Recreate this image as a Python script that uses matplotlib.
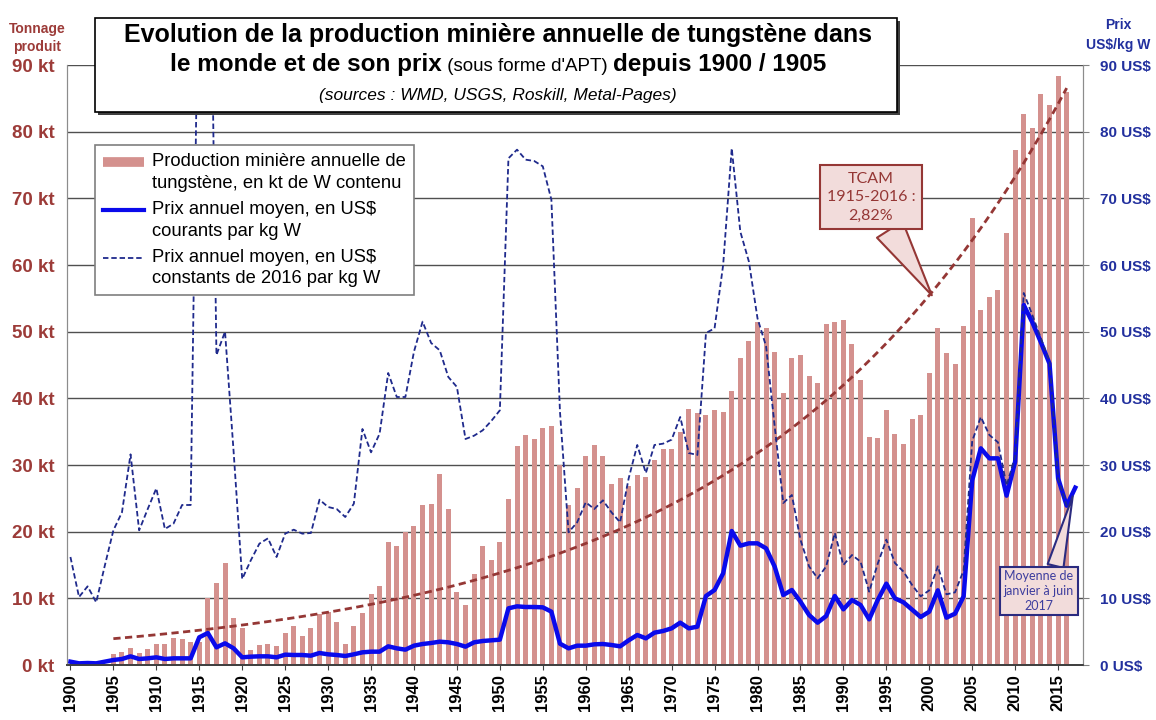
#!/bin/python
# production miniere de tungstene et prix (courant / constant) depuis 1900

import numpy as np
import matplotlib
matplotlib.use('Agg')
from matplotlib import pyplot as plt
from matplotlib.patches import Rectangle
from matplotlib.lines import Line2D
from matplotlib.legend_handler import HandlerLine2D

plt.rcParams['font.family'] = ['Liberation Sans', 'DejaVu Sans']

# ---- donnees ----
annees_prod = np.arange(1905, 2017)
production = [1.6, 1.9, 2.6, 1.8, 2.4,                      # 1905-1909
              3.2, 3.2, 4.1, 3.9, 3.5, 3.5, 10.0, 12.3, 15.3, 7.0,   # 1910-1919
              5.5, 2.3, 3.0, 3.2, 2.9, 4.8, 5.8, 4.4, 5.5, 7.6,      # 1920-1929
              7.9, 6.4, 3.2, 5.9, 7.8, 10.6, 11.8, 18.5, 17.8, 20.0, # 1930-1939
              20.8, 24.0, 24.1, 28.6, 23.4, 10.9, 9.0, 13.6, 17.8, 15.8,  # 1940-1949
              18.4, 24.9, 32.8, 34.5, 33.9, 35.6, 35.8, 30.0, 24.0, 26.5, # 1950-1959
              31.3, 33.0, 31.3, 27.2, 28.0, 26.9, 28.5, 28.2, 30.8, 32.4, # 1960-1969
              32.4, 35.0, 38.4, 37.8, 37.5, 38.2, 38.0, 41.1, 46.0, 48.6, # 1970-1979
              51.5, 50.5, 46.9, 40.8, 46.1, 46.5, 43.4, 42.3, 51.2, 51.5, # 1980-1989
              51.8, 48.1, 42.8, 34.2, 34.0, 38.3, 34.6, 33.1, 36.9, 37.5, # 1990-1999
              43.8, 50.5, 46.8, 45.2, 50.9, 67.1, 53.2, 55.2, 56.3, 64.8, # 2000-2009
              77.2, 82.6, 80.6, 85.7, 84.0, 88.4, 85.9]                  # 2010-2016

annees_prix = np.arange(1900, 2018)
prix_courant = [0.5, 0.25, 0.3, 0.25, 0.5, 0.75, 0.9, 1.3, 0.9, 1.0,     # 1900-1909
                1.15, 0.9, 1.0, 1.0, 1.0, 4.15, 4.8, 2.65, 3.25, 2.5,    # 1910-1919
                1.15, 1.25, 1.3, 1.3, 1.15, 1.55, 1.5, 1.5, 1.4, 1.8,    # 1920-1929
                1.6, 1.5, 1.35, 1.6, 1.9, 2.0, 2.0, 2.8, 2.5, 2.3,       # 1930-1939
                2.9, 3.15, 3.3, 3.5, 3.4, 3.15, 2.75, 3.4, 3.6, 3.7,     # 1940-1949
                3.8, 8.5, 8.8, 8.7, 8.7, 8.65, 8.0, 3.2, 2.5, 2.9,       # 1950-1959
                2.9, 3.1, 3.15, 3.0, 2.8, 3.7, 4.5, 4.0, 4.85, 5.1,      # 1960-1969
                5.5, 6.35, 5.5, 5.75, 10.35, 11.25, 13.75, 20.1, 17.9, 18.25,  # 1970-1979
                18.25, 17.5, 14.75, 10.5, 11.25, 9.5, 7.5, 6.35, 7.35, 10.35,  # 1980-1989
                8.35, 9.75, 9.0, 6.85, 9.75, 12.2, 10.0, 9.4, 8.3, 7.2,  # 1990-1999
                8.0, 11.2, 7.1, 7.7, 10.3, 27.7, 32.5, 31.0, 31.0, 25.4, # 2000-2009
                30.5, 54.0, 51.4, 48.4, 45.2, 28.0, 23.9, 26.6]          # 2010-2017

annees_const = np.arange(1900, 2017)
prix_constant = [16.2, 10.2, 11.8, 9.4, 14.9, 20.2, 22.9, 31.6, 20.2, 23.4,   # 1900-1909
                 26.5, 20.4, 21.2, 24.0, 24.0, 115.0, 140.0, 46.5, 50.0, 32.0, # 1910-1919
                 12.9, 15.7, 18.2, 19.0, 16.2, 19.7, 20.3, 19.7, 19.8, 24.8,   # 1920-1929
                 23.7, 23.4, 22.2, 24.2, 35.4, 31.9, 34.7, 43.8, 40.2, 40.2,   # 1930-1939
                 47.0, 51.5, 48.3, 47.2, 43.2, 41.7, 33.9, 34.4, 35.2, 36.6,   # 1940-1949
                 38.2, 76.0, 77.3, 75.8, 75.6, 74.8, 69.8, 38.0, 19.9, 21.4,   # 1950-1959
                 24.4, 23.4, 24.7, 22.9, 21.4, 28.0, 33.0, 28.8, 33.0, 33.2,   # 1960-1969
                 33.8, 37.2, 31.8, 31.5, 49.8, 50.5, 60.0, 77.5, 65.0, 60.5,   # 1970-1979
                 52.0, 47.8, 35.8, 24.3, 25.5, 18.8, 14.8, 13.0, 14.8, 19.8,   # 1980-1989
                 15.0, 16.5, 15.5, 11.0, 15.2, 18.8, 15.3, 14.0, 12.0, 10.3,   # 1990-1999
                 11.2, 14.8, 10.6, 10.9, 14.2, 33.6, 37.2, 34.5, 33.4, 26.9,   # 2000-2009
                 31.3, 55.8, 52.5, 49.0, 45.5, 28.0, 23.9]                    # 2010-2016

# courbe de tendance : taux de croissance annuel de la bulle (2,82 %), depart lu en 1905
TCAM = 0.0282
tendance_1905 = 3.95
tendance = tendance_1905 * (1 + TCAM) ** (annees_prod - 1905)

rouge = '#D4918E'
brun = '#953735'
bleu = '#0A0AEB'
bleu_fonce = '#1F2A8C'
bleu_axe = '#22309E'
rose = '#F2DCDB'

W, H = 1156, 720
fig = plt.figure(figsize=(W / 100, H / 100), dpi=100)

def fx(px):
    return px / W

def fy(py):
    return 1 - py / H

ax = fig.add_axes([fx(67), fy(665), fx(1083) - fx(67), fy(65) - fy(665)])
ax2 = ax.twinx()

ax.bar(annees_prod, production, width=0.58, color=rouge, zorder=2)
ax.plot(annees_prod, tendance, color=brun, lw=2.0, ls=(0, (2.6, 1.6)), zorder=3)
ax.set_axisbelow(True)
ax.yaxis.grid(True, color='#505050', lw=1.0)

ax2.plot(annees_prix, prix_courant, color=bleu, lw=3.2, solid_joinstyle='round')
ax2.plot(annees_const, prix_constant, color=bleu_fonce, lw=1.3, ls=(0, (3, 1.6)))

ax.set_xlim(1899.6, 2017.9)
ax.set_ylim(0, 90)
ax2.set_ylim(0, 90)

ax.set_xticks(np.arange(1900, 2016, 5))
ax.set_xticklabels([str(a) for a in range(1900, 2016, 5)], rotation=90,
                   fontsize=12, fontweight='bold')
ax.tick_params(axis='x', direction='inout', length=7, color='#404040', pad=3)

ax.set_yticks(np.arange(0, 91, 10))
ax.set_yticklabels(['%d kt' % v for v in range(0, 91, 10)], fontsize=13.5,
                   fontweight='bold', color='#9C3B38')
ax.tick_params(axis='y', length=0, pad=9)

ax2.set_yticks(np.arange(0, 91, 10))
ax2.set_yticklabels(['%d US$' % v for v in range(0, 91, 10)], fontsize=11,
                    fontweight='bold', color=bleu_axe)
ax2.tick_params(axis='y', length=4, color='#808080', pad=8)

for a in (ax, ax2):
    a.spines['top'].set_visible(False)
    a.spines['left'].set_color('#8C8C8C')
    a.spines['right'].set_color('#8C8C8C')
    a.spines['bottom'].set_color('#404040')
    a.spines['bottom'].set_linewidth(1.3)

fig.text(fx(37), fy(38), 'Tonnage\nproduit', ha='center', va='center',
         fontsize=10, fontweight='bold', color='#9C3B38', linespacing=1.3)
fig.text(fx(1118), fy(35), 'Prix\nUS$/kg W', ha='center', va='center',
         fontsize=10, fontweight='bold', color=bleu_axe, linespacing=1.5)


# poignee de legende alignee sur la premiere ligne du texte
class PoigneeHaute(HandlerLine2D):
    def create_artists(self, legend, orig_handle, xdescent, ydescent, width,
                       height, fontsize, trans):
        arts = super().create_artists(legend, orig_handle, xdescent, ydescent,
                                      width, height, fontsize, trans)
        for a in arts:
            a.set_ydata(np.asarray(a.get_ydata(), float) + 0.56 * fontsize)
        return arts


poignees = [Line2D([], [], color=rouge, lw=7, solid_capstyle='butt'),
            Line2D([], [], color=bleu, lw=3),
            Line2D([], [], color=bleu_fonce, lw=1.3, ls=(0, (3, 1.6)))]
etiquettes = ['Production minière annuelle de\ntungstène, en kt de W contenu',
              'Prix annuel moyen, en US$\ncourants par kg W',
              'Prix annuel moyen, en US$\nconstants de 2016 par kg W']
leg = ax2.legend(poignees, etiquettes, loc='upper left',
                 bbox_to_anchor=(fx(95), fy(145)), bbox_transform=fig.transFigure,
                 fontsize=13.2, fancybox=False, edgecolor='#7F7F7F', framealpha=1,
                 handlelength=2.2, handletextpad=0.45, borderpad=0.45,
                 labelspacing=0.5, borderaxespad=0,
                 handler_map={Line2D: PoigneeHaute()})
leg.get_frame().set_linewidth(1.2)
for t in leg.get_texts():
    t.set_linespacing(1.35)

# cadre du titre
fig.add_artist(Rectangle((fx(98), fy(115)), fx(897) - fx(95), fy(18) - fy(112),
                         transform=fig.transFigure, facecolor='#404040',
                         edgecolor='none', zorder=4))
fig.add_artist(Rectangle((fx(95), fy(112)), fx(897) - fx(95), fy(18) - fy(112),
                         transform=fig.transFigure, facecolor='white',
                         edgecolor='black', lw=1.2, zorder=5))
fig.text(fx(498), fy(42), 'Evolution de la production minière annuelle de tungstène dans',
         ha='center', va='baseline', fontsize=18, fontweight='bold', zorder=6)

renderer = fig.canvas.get_renderer()
morceaux = [('le monde et de son prix', 17.5, 'bold'),
            (' (sous forme d\'APT) ', 13.5, 'normal'),
            ('depuis 1900 / 1905', 17.5, 'bold')]
textes = []
for s, taille, poids in morceaux:
    textes.append(fig.text(0, fy(71), s, ha='left', va='baseline', fontsize=taille,
                           fontweight=poids, zorder=6))
largeurs = [t.get_window_extent(renderer).width for t in textes]
x0 = 498 - sum(largeurs) / 2
for t, l in zip(textes, largeurs):
    t.set_x(fx(x0))
    x0 += l

fig.text(fx(498), fy(100), '(sources : WMD, USGS, Roskill, Metal-Pages)',
         ha='center', va='baseline', fontsize=12.5, fontstyle='italic', zorder=6)

# bulles
ax.annotate('TCAM\n1915-2016 :\n2,82%', xy=(2000.3, tendance[annees_prod == 2000][0]),
            xycoords='data', xytext=(fx(871), fy(197)), textcoords='figure fraction',
            ha='center', va='center', fontsize=11.5, family=['Lato', 'DejaVu Sans'],
            color=brun, linespacing=1.4, zorder=7, annotation_clip=False,
            bbox=dict(boxstyle='square,pad=0.4', fc=rose, ec=brun, lw=1.5),
            arrowprops=dict(arrowstyle='wedge,tail_width=1.9', fc=rose, ec=brun,
                            lw=1.5, relpos=(0.66, 0.0), shrinkA=0, shrinkB=0))

ax2.annotate('Moyenne de\njanvier à juin\n2017', xy=(2016.7, 25.3), xycoords='data',
             xytext=(fx(1039), fy(591)), textcoords='figure fraction',
             ha='center', va='center', fontsize=9, family=['Lato', 'DejaVu Sans'],
             color='#3D3D9E', linespacing=1.25, zorder=7, annotation_clip=False,
             bbox=dict(boxstyle='square,pad=0.3', fc=rose, ec='#2B2B80', lw=1.5),
             arrowprops=dict(arrowstyle='wedge,tail_width=1.3', fc=rose, ec='#2B2B80',
                             lw=1.5, relpos=(0.72, 1.0), shrinkA=0, shrinkB=0))

plt.savefig('out.png', dpi=100)
